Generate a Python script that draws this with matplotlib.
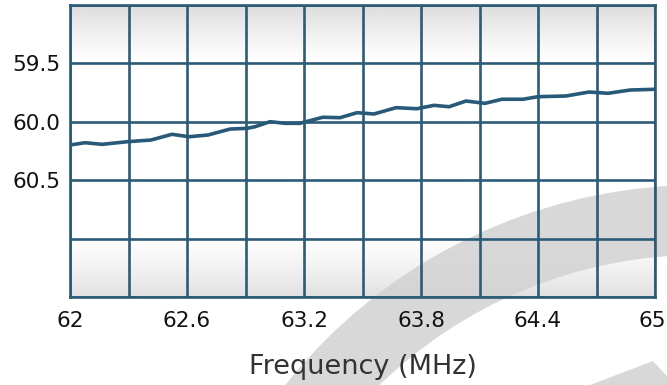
import numpy as np
import matplotlib
matplotlib.use('Agg')
import matplotlib.pyplot as plt
import matplotlib.transforms as mtransforms
from matplotlib.patches import Wedge, Polygon

# values
freq = [62.000, 62.077, 62.164, 62.297, 62.415, 62.523, 62.610, 62.708,
        62.821, 62.908, 62.949, 63.026, 63.103, 63.179, 63.297, 63.385,
        63.472, 63.559, 63.672, 63.779, 63.867, 63.944, 64.031, 64.128,
        64.215, 64.323, 64.400, 64.544, 64.662, 64.759, 64.872, 64.990, 65.0]
level = [60.199, 60.179, 60.193, 60.170, 60.156, 60.107, 60.128, 60.113,
         60.062, 60.056, 60.042, 59.999, 60.013, 60.013, 59.961, 59.965,
         59.922, 59.933, 59.879, 59.888, 59.859, 59.871, 59.822, 59.842,
         59.807, 59.807, 59.785, 59.779, 59.745, 59.756, 59.728, 59.722, 59.722]

xticks = [62.0, 62.3, 62.6, 62.9, 63.2, 63.5, 63.8, 64.1, 64.4, 64.7, 65.0]
xlabels = ['62', '', '62.6', '', '63.2', '', '63.8', '', '64.4', '', '65']
yticks = [59.0, 59.5, 60.0, 60.5, 61.0, 61.5]
ylabels = ['', '59.5', '60.0', '60.5', '', '']

GRID = '#2c5b77'
LINE = '#285a77'
MARK = '#d2d2d2'

fig = plt.figure(figsize=(6.67, 3.85), dpi=100)
ax = fig.add_axes([70 / 667, 88 / 385, 585 / 667, 292 / 385])

# background: grey fade at top and bottom rows
n = 292
prof = np.ones(n)
top = np.linspace(0, 1, 58)
prof[:58] = 0.855 + 0.145 * top ** 0.8
prof[-58:] = 0.875 + 0.125 * (1 - top) ** 0.8
img = np.repeat(prof[:, None], 2, axis=1)
ax.imshow(img, cmap='gray', vmin=0, vmax=1, aspect='auto',
          extent=[62, 65, 61.5, 59.0], zorder=-3, interpolation='bilinear')
ax.set_xlim(62, 65)
ax.set_ylim(61.5, 59.0)

# watermark arcs (pixel based, y flipped)
tr = fig.dpi_scale_trans
ring = Wedge((7.0, (385 - 715) / 100), 5.30, 0, 180, width=0.70,
             transform=tr, facecolor=MARK, edgecolor='none',
             alpha=0.85, clip_on=False, zorder=-2)
ax.add_patch(ring)
tip = Polygon(np.array([[590, 385], [653, 361], [667, 376], [667, 385]]) * [1, -1] / 100 + [0, 3.85],
              closed=True, transform=tr, facecolor=MARK, edgecolor='none',
              alpha=0.85, clip_on=False, zorder=-2)
ax.add_patch(tip)

ax.set_xticks(xticks)
ax.set_xticklabels(xlabels)
ax.set_yticks(yticks)
ax.set_yticklabels(ylabels)
ax.tick_params(length=0, labelsize=15.5, colors='#111111')
ax.tick_params(axis='x', pad=10)
ax.tick_params(axis='y', pad=7)
ax.grid(True, color=GRID, linewidth=1.9, zorder=1)
ax.set_axisbelow(False)
for s in ax.spines.values():
    s.set_color(GRID)
    s.set_linewidth(1.9)

# keep the last x label inside the picture
last = ax.get_xticklabels()[-1]
last.set_horizontalalignment('right')
last.set_transform(last.get_transform() +
                   mtransforms.ScaledTranslation(11 / 100, 0, fig.dpi_scale_trans))

ax.plot(freq, level, color=LINE, linewidth=2.6, solid_joinstyle='round',
        solid_capstyle='butt', zorder=3)

ax.set_xlabel('Frequency (MHz)', fontsize=19.5, color='#333333', labelpad=17)

fig.savefig('out.png', dpi=100)
